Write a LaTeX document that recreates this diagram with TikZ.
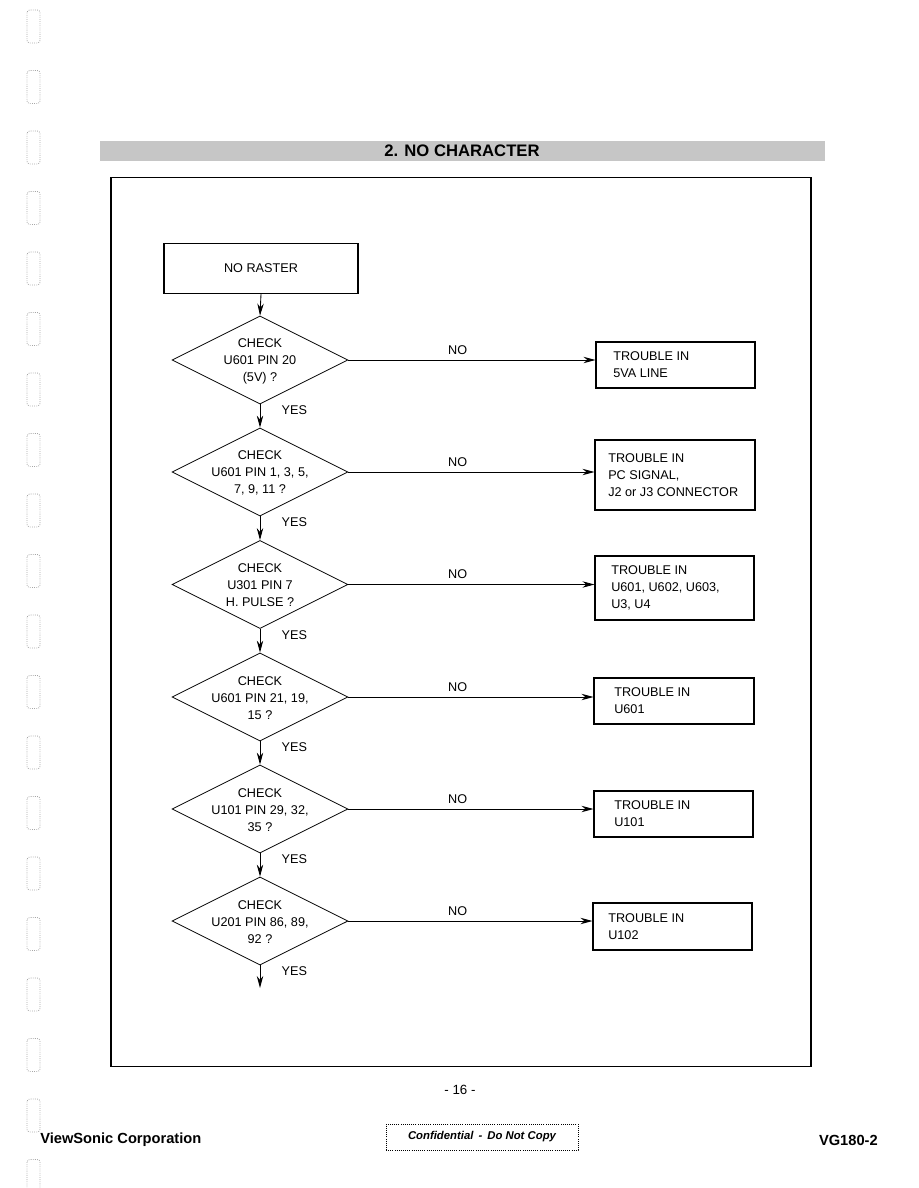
\documentclass[tikz,border=0pt]{standalone}
\usepackage{fontspec}
\setmainfont{Liberation Sans}
\usetikzlibrary{shapes.geometric,arrows.meta}
\begin{document}
\begin{tikzpicture}[x=0.75pt,y=-0.75pt,
  every node/.style={font=\fontsize{9.5}{12.75}\selectfont},
  frame/.style={draw, line width=0.9pt},
  startbox/.style={draw, line width=0.8pt, minimum width=145.5pt, minimum height=37.5pt, inner sep=0pt},
  dia/.style={draw, diamond, line width=0.6pt, minimum width=132pt, minimum height=66pt, inner sep=0pt},
  dtext/.style={align=center, inner sep=0pt},
  outbox/.style={draw, line width=0.8pt, inner sep=0pt},
  otext/.style={align=left, anchor=west, inner sep=0pt},
  lab/.style={inner sep=0pt},
  arr/.style={line width=0.65pt, -{Stealth[length=9pt,width=4.8pt]}},
  hole/.style={draw=gray!70, densely dotted, line width=0.6pt, rounded corners=2pt}
]
\useasboundingbox (0,0) rectangle (918,1188);
% binder holes on the left margin
\foreach \i in {0,...,19}{
  \draw[hole] (27,{10+60.5*\i}) rectangle (40,{43+60.5*\i});
}
% header bar
\node[fill=gray!45, minimum width=543.75pt, minimum height=15pt, inner sep=0pt] (hdr) at (462.5,151) {};
\node[lab, font=\bfseries\fontsize{12.5}{14}\selectfont] (title) at (462,151) {2. NO CHARACTER};
% frame
\node[frame, minimum width=525pt, minimum height=666.75pt, inner sep=0pt] (frm) at (461,622) {};
% start box
\node[startbox] (start) at (261,268.5) {};
\node[lab] (starttxt) at (start) {NO RASTER};
% diamonds
\foreach \n/\y/\txt in {1/360/{CHECK\\U601 PIN 20\\(5V) ?},
                         2/472/{CHECK\\U601 PIN 1, 3, 5,\\7, 9, 11 ?},
                         3/584.5/{CHECK\\U301 PIN 7\\H. PULSE ?},
                         4/697/{CHECK\\U601 PIN 21, 19,\\15 ?},
                         5/809/{CHECK\\U101 PIN 29, 32,\\35 ?},
                         6/921/{CHECK\\U201 PIN 86, 89,\\92 ?}}{
  \node[dia] (d\n) at (260,\y) {};
  \node[dtext] (dt\n) at (260,\y+1) {\txt};
}
% output boxes
\node[outbox, minimum width=119.25pt, minimum height=34.5pt] (b1) at (675.5,365) {};
\node[otext] (bt1) at (613,365) {TROUBLE IN\\5VA LINE};
\node[outbox, minimum width=120pt, minimum height=52.5pt] (b2) at (675,475) {};
\node[otext] (bt2) at (608,475) {TROUBLE IN\\PC SIGNAL,\\J2 or J3 CONNECTOR};
\node[outbox, minimum width=119.25pt, minimum height=48pt] (b3) at (674.5,588) {};
\node[otext] (bt3) at (611,588) {TROUBLE IN\\U601, U602, U603,\\U3, U4};
\node[outbox, minimum width=120pt, minimum height=34.5pt] (b4) at (674,701) {};
\node[otext] (bt4) at (614,701) {TROUBLE IN\\U601};
\node[outbox, minimum width=119.25pt, minimum height=34.5pt] (b5) at (673.5,814) {};
\node[otext] (bt5) at (614,814) {TROUBLE IN\\U101};
\node[outbox, minimum width=119.25pt, minimum height=35.25pt] (b6) at (672.5,926.5) {};
\node[otext] (bt6) at (608,926.5) {TROUBLE IN\\U102};
% connectors
\draw[arr] (start.south) -- (d1.north);
\foreach \a/\b in {1/2,2/3,3/4,4/5,5/6}{
  \draw[arr] (d\a.south) -- (d\b.north);
}
\coordinate (end) at (260,988);
\draw[arr] (d6.south) -- (end);
\foreach \n in {1,...,6}{
  \draw[arr] (d\n.east) -- (d\n.east -| b\n.west);
  \node[lab] (no\n) at ([xshift=82pt,yshift=7.5pt]d\n.east) {NO};
  \node[lab, anchor=west] (yes\n) at ([xshift=16pt,yshift=-4.5pt]d\n.south) {YES};
}
% footer
\node[lab, font=\fontsize{10}{12}\selectfont] (page) at (460,1090) {- 16 -};
\node[lab, anchor=west, font=\bfseries\fontsize{11}{13}\selectfont] (corp) at (40,1140) {ViewSonic Corporation};
\node[draw, densely dotted, line width=0.6pt, minimum width=144pt, minimum height=19.5pt, inner sep=0pt] (conf) at (482,1137) {};
\node[lab, font=\bfseries\itshape\fontsize{8.5}{10}\selectfont] (conftxt) at (conf) {Confidential\, - \,Do Not Copy};
\node[lab, anchor=east, font=\bfseries\fontsize{11}{13}\selectfont] (model) at (878,1140) {VG180-2};
\end{tikzpicture}
\end{document}
